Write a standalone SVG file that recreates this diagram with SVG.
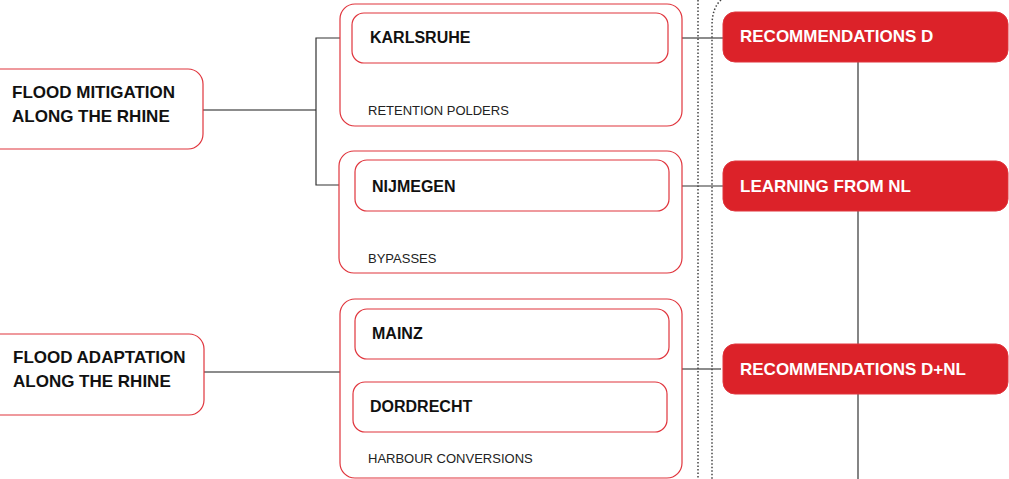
<svg xmlns="http://www.w3.org/2000/svg" width="1009" height="479" viewBox="0 0 1009 479">
<style>
.box{fill:#fff;stroke:#e0353d;stroke-width:1.2}
.red{fill:#dc2229;stroke:#e0353d;stroke-width:1}
.t{font-family:"Liberation Sans",Arial,sans-serif;font-weight:bold;font-size:17px;fill:#111}
.ti{font-family:"Liberation Sans",Arial,sans-serif;font-weight:bold;font-size:16px;fill:#111}
.tw{font-family:"Liberation Sans",Arial,sans-serif;font-weight:bold;font-size:17px;fill:#fff}
.s{font-family:"Liberation Sans",Arial,sans-serif;font-size:13px;fill:#222}
.ln{fill:none;stroke:#333;stroke-width:1.2}
.lg{fill:none;stroke:#666;stroke-width:1.5}
.dot{fill:none;stroke:#444;stroke-width:1.5;stroke-dasharray:1.5 2}
</style>
<g id="connectors">
<polyline class="lg" points="203,110 316,110"/>
<polyline class="ln" points="340,38 316,38 316,185 340,185"/>
<line class="lg" x1="204" y1="372" x2="340" y2="372"/>
<line class="lg" x1="682" y1="38" x2="723" y2="38"/>
<line class="ln" x1="682" y1="186" x2="725" y2="186"/>
<line class="lg" x1="682" y1="369" x2="721" y2="369"/>
<line class="ln" x1="858" y1="62" x2="858" y2="479"/>
</g>
<g id="separators">
<line class="dot" x1="698" y1="0" x2="698" y2="479"/>
<path class="dot" d="M721,0 Q712,8 712,26 L712,479"/>
</g>
<g id="flood-mitigation">
<rect class="box" x="-15" y="69" width="218" height="80" rx="15"/>
<text class="t" x="12" y="98">FLOOD MITIGATION</text>
<text class="t" x="12" y="122">ALONG THE RHINE</text>
</g>
<g id="flood-adaptation">
<rect class="box" x="-15" y="334" width="219" height="81" rx="15"/>
<text class="t" x="13" y="363">FLOOD ADAPTATION</text>
<text class="t" x="13" y="387">ALONG THE RHINE</text>
</g>
<g id="retention-polders">
<rect class="box" x="340" y="4" width="342" height="122" rx="15"/>
<text class="s" x="368" y="115">RETENTION POLDERS</text>
</g>
<g id="karlsruhe">
<rect class="box" x="352" y="13" width="316" height="50" rx="12"/>
<text class="ti" x="370" y="43">KARLSRUHE</text>
</g>
<g id="bypasses">
<rect class="box" x="339" y="151" width="343" height="122" rx="15"/>
<text class="s" x="368" y="263">BYPASSES</text>
</g>
<g id="nijmegen">
<rect class="box" x="355" y="160" width="314" height="51" rx="12"/>
<text class="ti" x="372" y="192">NIJMEGEN</text>
</g>
<g id="harbour-conversions">
<rect class="box" x="340" y="299" width="342" height="179" rx="15"/>
<text class="s" x="368" y="463">HARBOUR CONVERSIONS</text>
</g>
<g id="mainz">
<rect class="box" x="355" y="309" width="314" height="50" rx="12"/>
<text class="ti" x="372" y="339">MAINZ</text>
</g>
<g id="dordrecht">
<rect class="box" x="353" y="382" width="314" height="50" rx="12"/>
<text class="ti" x="370" y="412">DORDRECHT</text>
</g>
<g id="recommendations-d">
<rect class="red" x="723" y="12" width="285" height="50" rx="12"/>
<text class="tw" x="740" y="42">RECOMMENDATIONS D</text>
</g>
<g id="learning-from-nl">
<rect class="red" x="723" y="161" width="285" height="50" rx="12"/>
<text class="tw" x="740" y="192">LEARNING FROM NL</text>
</g>
<g id="recommendations-dnl">
<rect class="red" x="723" y="344" width="285" height="50" rx="12"/>
<text class="tw" x="740" y="375">RECOMMENDATIONS D+NL</text>
</g>
</svg>
